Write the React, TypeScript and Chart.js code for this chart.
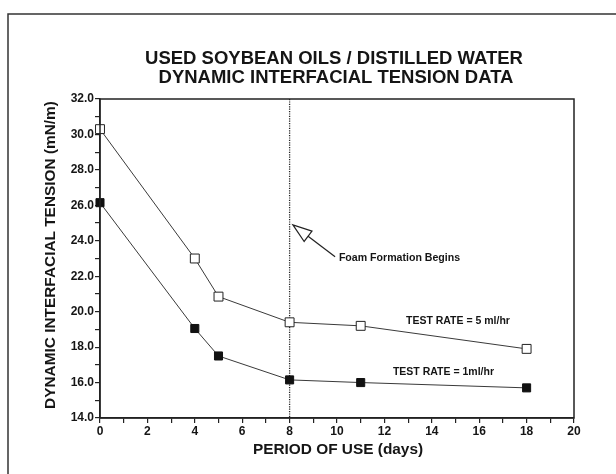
import React, { useEffect, useRef } from "react";
import { Chart, registerables } from "chart.js";

Chart.register(...registerables);

const days = [0, 4, 5, 8, 11, 18];
const rate5 = [30.3, 23.0, 20.85, 19.4, 19.2, 17.9];
const rate1 = [26.15, 19.05, 17.5, 16.15, 16.0, 15.7];

const titleLines = ["USED SOYBEAN OILS / DISTILLED WATER", "DYNAMIC INTERFACIAL TENSION DATA"];
const yTitle = "DYNAMIC INTERFACIAL TENSION (mN/m)";
const xTitle = "PERIOD OF USE (days)";
const foamDay = 8;
const foamText = "Foam Formation Begins";
const label5 = "TEST RATE = 5 ml/hr";
const label1 = "TEST RATE = 1ml/hr";

const FONT = '"Liberation Sans", Arial, Helvetica, sans-serif';
const INK = "#151515";

const overlay = {
  id: "overlay",
  beforeDraw(chart: any) {
    const ctx = chart.ctx;
    ctx.save();
    ctx.fillStyle = "#fff";
    ctx.fillRect(0, 0, chart.width, chart.height);
    ctx.strokeStyle = "#333";
    ctx.lineWidth = 1.5;
    ctx.beginPath();
    ctx.moveTo(8, 474);
    ctx.lineTo(8, 14);
    ctx.lineTo(616, 14);
    ctx.stroke();
    ctx.restore();
  },
  beforeDatasetsDraw(chart: any) {
    const { ctx, chartArea, scales } = chart;
    const x = scales.x;
    ctx.save();
    ctx.strokeStyle = "#222";
    ctx.lineWidth = 1.3;
    ctx.setLineDash([1.2, 1.2]);
    const px = x.getPixelForValue(foamDay);
    ctx.beginPath();
    ctx.moveTo(px, chartArea.top);
    ctx.lineTo(px, chartArea.bottom);
    ctx.stroke();
    ctx.restore();
  },
  afterDraw(chart: any) {
    const { ctx, chartArea, scales } = chart;
    const { left, right, top, bottom } = chartArea;
    const x = scales.x;
    const y = scales.y;
    ctx.save();
    ctx.strokeStyle = "#222";
    ctx.lineWidth = 1.5;
    ctx.strokeRect(left, top, right - left, bottom - top);

    ctx.fillStyle = INK;
    ctx.textAlign = "center";
    ctx.textBaseline = "middle";
    ctx.font = `bold 18.5px ${FONT}`;
    ctx.fillText(titleLines[0], 334, 58.5);
    ctx.fillText(titleLines[1], 336, 77.5);

    ctx.font = `bold 15.4px ${FONT}`;
    ctx.fillText(xTitle, 338, 450);
    ctx.save();
    ctx.translate(50.5, 255);
    ctx.rotate(-Math.PI / 2);
    ctx.fillText(yTitle, 0, 0);
    ctx.restore();

    const tipX = x.getPixelForValue(8.14);
    const tipY = y.getPixelForValue(24.9);
    const tailX = x.getPixelForValue(9.92);
    const tailY = y.getPixelForValue(23.1);
    const ang = Math.atan2(tailY - tipY, tailX - tipX);
    const headLen = 19;
    const headHalf = 6.5;
    const bx = tipX + Math.cos(ang) * headLen;
    const by = tipY + Math.sin(ang) * headLen;
    const nx = -Math.sin(ang);
    const ny = Math.cos(ang);
    ctx.strokeStyle = "#222";
    ctx.lineWidth = 1.2;
    ctx.beginPath();
    ctx.moveTo(tipX, tipY);
    ctx.lineTo(bx + nx * headHalf, by + ny * headHalf);
    ctx.lineTo(bx - nx * headHalf, by - ny * headHalf);
    ctx.closePath();
    ctx.fillStyle = "#fff";
    ctx.fill();
    ctx.stroke();
    ctx.beginPath();
    ctx.moveTo(bx, by);
    ctx.lineTo(tailX, tailY);
    ctx.stroke();

    ctx.fillStyle = INK;
    ctx.textAlign = "left";
    ctx.font = `bold 10.6px ${FONT}`;
    ctx.fillText(foamText, x.getPixelForValue(10.08), y.getPixelForValue(23.03));
    ctx.font = `bold 10.5px ${FONT}`;
    ctx.fillText(label5, x.getPixelForValue(12.91), y.getPixelForValue(19.47));
    ctx.fillText(label1, x.getPixelForValue(12.36), y.getPixelForValue(16.6));
    ctx.restore();
  },
};

export default function App() {
  const ref = useRef<HTMLCanvasElement | null>(null);
  useEffect(() => {
    if (!ref.current) return;
    const chart = new Chart(ref.current, {
      type: "scatter",
      data: {
        datasets: [
          {
            label: label5,
            data: days.map((d, i) => ({ x: d, y: rate5[i] })),
            showLine: true,
            borderColor: "#3a3a3a",
            borderWidth: 1,
            pointStyle: "rect",
            pointRadius: 6.3,
            pointBackgroundColor: "#fff",
            pointBorderColor: "#222",
            pointBorderWidth: 1,
            clip: false,
          },
          {
            label: label1,
            data: days.map((d, i) => ({ x: d, y: rate1[i] })),
            showLine: true,
            borderColor: "#3a3a3a",
            borderWidth: 1,
            pointStyle: "rect",
            pointRadius: 5.7,
            pointBackgroundColor: "#111",
            pointBorderColor: "#111",
            pointBorderWidth: 1,
            clip: false,
          },
        ],
      },
      options: {
        responsive: false,
        animation: false,
        events: [],
        layout: { padding: { top: 99, right: 42, left: 0, bottom: 0 } },
        plugins: { legend: { display: false }, tooltip: { enabled: false }, title: { display: false } },
        scales: {
          x: {
            type: "linear",
            min: 0,
            max: 20,
            afterFit(scale: any) {
              scale.height = 56;
            },
            ticks: {
              stepSize: 1,
              autoSkip: false,
              maxRotation: 0,
              padding: 1,
              color: INK,
              font: { family: FONT, size: 12, weight: "bold" },
              callback: (v: any) => (Number(v) % 2 === 0 ? String(v) : ""),
            },
            grid: { drawOnChartArea: false, drawTicks: true, tickLength: 5, color: "#222", lineWidth: 1.2 },
            border: { display: true, color: "#222", width: 1.5 },
          },
          y: {
            type: "linear",
            min: 14,
            max: 32,
            afterFit(scale: any) {
              scale.width = 100;
            },
            ticks: {
              stepSize: 1,
              autoSkip: false,
              padding: 1,
              color: INK,
              font: { family: FONT, size: 12, weight: "bold" },
              callback: (v: any) => (Number(v) % 2 === 0 ? Number(v).toFixed(1) : ""),
            },
            grid: { drawOnChartArea: false, drawTicks: true, tickLength: 5, color: "#222", lineWidth: 1.2 },
            border: { display: true, color: "#222", width: 1.5 },
          },
        },
      },
      plugins: [overlay],
    } as any);
    return () => chart.destroy();
  }, []);
  return (
    <div style={{ position: "fixed", left: 0, top: 0, width: 616, height: 474 }}>
      <canvas ref={ref} width={616} height={474} />
    </div>
  );
}
